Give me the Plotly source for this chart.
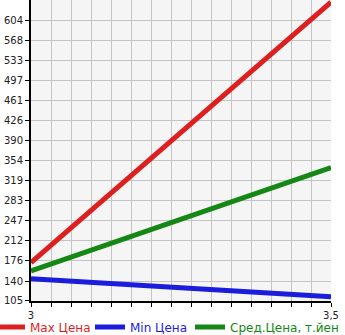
import plotly.graph_objects as go

x_vals = [3, 3.5]
max_price = [173, 636]
min_price = [144, 112]
avg_price = [158, 342]

y_ticks = [105, 140, 176, 212, 247, 283, 319, 354, 390, 426, 461, 497, 533, 568, 604]
x_tickvals = [3, 3.5]
x_ticktext = ["3", "3,5"]

series = [
    ("Max Цена", max_price, "#dd1f1f", "legend"),
    ("Min Цена", min_price, "#1c1cdc", "legend2"),
    ("Сред.Цена, т.йен", avg_price, "#148714", "legend3"),
]

fig = go.Figure()
for name, vals, color, lg in series:
    fig.add_trace(go.Scatter(
        x=x_vals, y=vals, mode="lines",
        line=dict(color=color, width=5),
        name=f'<span style="color:{color}">{name}</span>',
        legend=lg,
    ))

def leg(px):
    return dict(
        orientation="h", x=(px - 31) / 300, xanchor="left",
        y=-26 / 301, yanchor="middle",
        font=dict(size=12, family="DejaVu Sans"),
        bgcolor="rgba(0,0,0,0)", borderwidth=0,
    )

fig.update_layout(
    width=345, height=335,
    margin=dict(l=31, r=14, t=0, b=34, autoexpand=False),
    paper_bgcolor="white",
    plot_bgcolor="#f5f5f5",
    font=dict(family="DejaVu Sans", size=10, color="#222"),
    showlegend=True,
    legend=leg(-10),
    legend2=leg(90),
    legend3=leg(190),
    xaxis=dict(
        range=[3, 3.5], tickvals=x_tickvals, ticktext=x_ticktext,
        showgrid=True, gridcolor="#c4c4c4", gridwidth=1,
        ticks="outside", ticklen=4, tickcolor="#000",
        showline=True, linecolor="#000", linewidth=2,
        zeroline=False,
        minor=dict(tick0=3, dtick=0.5 / 15, showgrid=True, gridcolor="#c4c4c4",
                   ticks="outside", ticklen=4, tickcolor="#000"),
        tickfont=dict(size=10),
    ),
    yaxis=dict(
        range=[104.5, 640], tickvals=y_ticks, ticktext=[str(v) for v in y_ticks],
        showgrid=True, gridcolor="#c4c4c4", gridwidth=1,
        ticks="outside", ticklen=4, tickcolor="#000",
        showline=True, linecolor="#000", linewidth=2,
        zeroline=False, tickfont=dict(size=10),
    ),
)

fig.write_html("out.html")
